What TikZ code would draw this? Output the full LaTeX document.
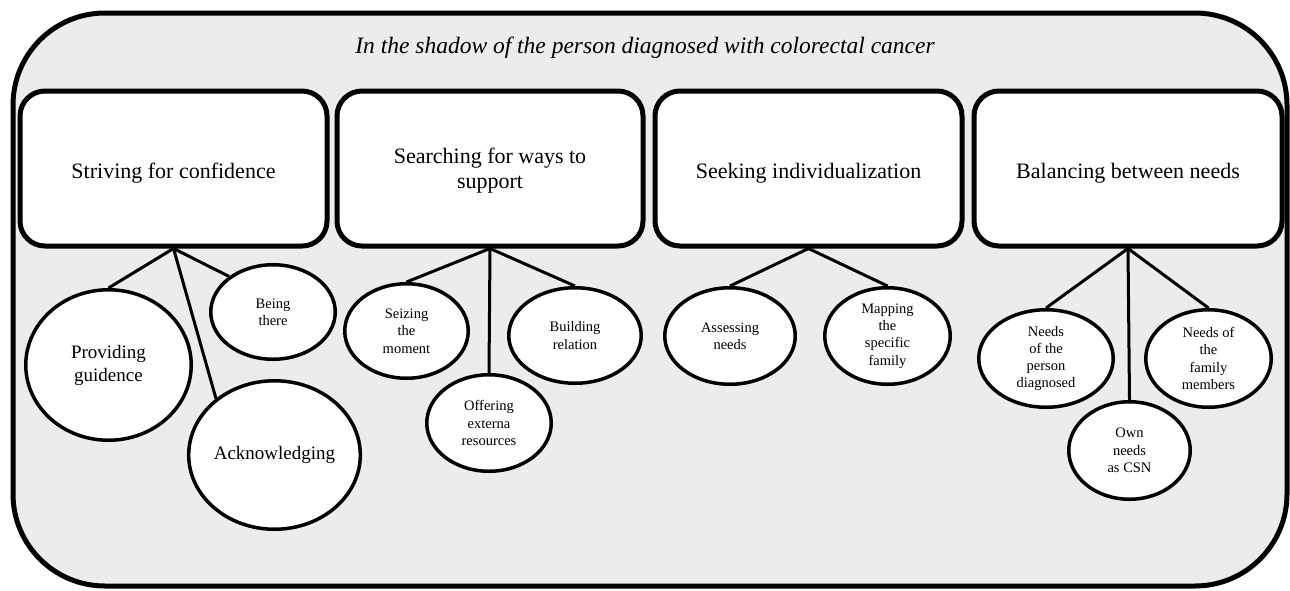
\documentclass[tikz,border=0pt]{standalone}
\usepackage{fontspec}
\setmainfont{Liberation Serif}
\usetikzlibrary{shapes.geometric}
\definecolor{bggray}{HTML}{ECECEC}
\begin{document}
\begin{tikzpicture}[x=1pt,y=-1pt,
  theme/.style={draw, line width=5pt, rounded corners=25pt, fill=white,
    minimum width=307pt, minimum height=155pt, align=center,
    font=\fontsize{22}{25}\selectfont, inner sep=0pt, text height=25pt},
  bigell/.style={ellipse, draw, line width=3.5pt, fill=white, inner sep=0pt,
    align=center, font=\fontsize{19}{23}\selectfont},
  smallell/.style={ellipse, draw, line width=3.5pt, fill=white, inner sep=0pt,
    align=center, font=\fontsize{14.5}{17.3}\selectfont},
  link/.style={line width=3pt}]
\useasboundingbox (0,0) rectangle (1290,590);
\draw[line width=5pt, fill=bggray, rounded corners=92pt] (13,13) rectangle (1287,586);
\node[font=\fontsize{23.5}{27}\selectfont\itshape, anchor=base] (title) at (645,53)
  {In the shadow of the person diagnosed with colorectal cancer};
% themes
\node[theme] (b1) at (173.5,168.5) {Striving for confidence};
\node[theme, minimum width=306pt, text height=45pt] (b2) at (490,168.5) {Searching for ways to\\support};
\node[theme] (b3) at (808.5,168.5) {Seeking individualization};
\node[theme, minimum width=308pt] (b4) at (1128,168.5) {Balancing between needs};
% subthemes
\node[bigell, minimum width=165.5pt, minimum height=150.5pt] (pg) at (108.5,365) {Providing\\guidence};
\node[bigell, minimum width=165.5pt, minimum height=148.5pt] (ack) at (274.5,455) {Acknowledging};
\node[smallell, minimum width=124.5pt, minimum height=94.5pt] (bt) at (273,312) {Being\\there};
\node[smallell, minimum width=123.5pt, minimum height=94.5pt] (sm) at (406.5,331) {Seizing\\the\\moment};
\node[smallell, minimum width=124.5pt, minimum height=96.5pt] (oer) at (489,423) {Offering\\externa\\resources};
\node[smallell, minimum width=132.5pt, minimum height=95.5pt] (br) at (575,335.5) {Building\\relation};
\node[smallell, minimum width=130.5pt, minimum height=96.5pt] (an) at (730,336) {Assessing\\needs};
\node[smallell, minimum width=125.5pt, minimum height=96.5pt] (msf) at (887.5,336) {Mapping\\the\\specific\\family};
\node[smallell, minimum width=134.5pt, minimum height=97.5pt] (np) at (1046,358.5) {Needs\\of the\\person\\diagnosed};
\node[smallell, minimum width=121.5pt, minimum height=97.5pt] (on) at (1129.5,450.5) {Own\\needs\\as CSN};
\node[smallell, minimum width=125.5pt, minimum height=97.5pt] (nf) at (1208.5,358.5) {Needs of\\the\\family\\members};
% connectors
\draw[link] (b1.south) -- (pg.north);
\draw[link] (b1.south) -- (ack.136);
\draw[link] (b1.south) -- (bt.141);
\draw[link] (b2.south) -- (sm.north);
\draw[link] (b2.south) -- (oer.north);
\draw[link] (b2.south) -- (br.north);
\draw[link] (b3.south) -- (an.north);
\draw[link] (b3.south) -- (msf.north);
\draw[link] (b4.south) -- (np.north);
\draw[link] (b4.south) -- (on.north);
\draw[link] (b4.south) -- (nf.north);
\end{tikzpicture}
\end{document}
